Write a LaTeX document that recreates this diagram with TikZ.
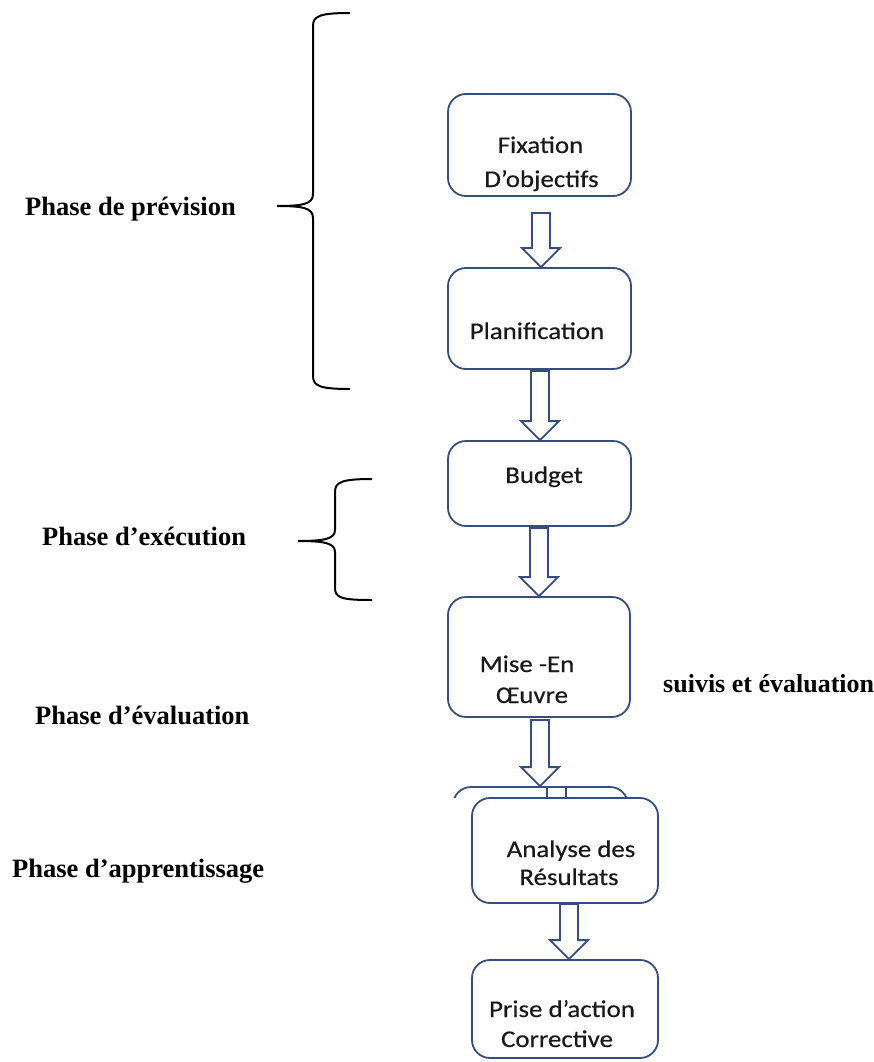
\documentclass[tikz,border=0pt]{standalone}
\usepackage{fontspec}
\setmainfont{Liberation Serif}
\newfontfamily\boxfont[FakeStretch=1.12,FakeBold=0.4]{Carlito}
\usetikzlibrary{calc}
\definecolor{boxblue}{RGB}{52,78,128}
\tikzset{
  stagebox/.style={draw=boxblue, line width=1.8pt, rounded corners=18pt, fill=white,
    rectangle, inner sep=0pt},
  stagetext/.style={anchor=base, inner sep=0pt, font=\boxfont\fontsize{24}{27}\selectfont, text=black!90},
  phaselabel/.style={anchor=base west, inner sep=0pt, font=\bfseries\fontsize{26.5}{30}\selectfont},
  bracket/.style={draw=black, line width=2pt},
  blockarrow/.style={draw=boxblue, line width=1.8pt, fill=white, line join=miter},
}
% hollow downward block arrow between two stage boxes
% #1 = x centre (pt), #2 = upper box, #3 = lower box, #4 = gap under upper box (pt)
\newcommand\blockarrow[4]{%
  \draw[blockarrow] let \p1=(#2.south), \p2=(#3.north) in
    (#1pt-9pt,\y1-#4pt) -- (#1pt+9pt,\y1-#4pt) -- (#1pt+9pt,\y2+19pt)
    -- (#1pt+19pt,\y2+19pt) -- (#1pt,\y2) -- (#1pt-19pt,\y2+19pt)
    -- (#1pt-9pt,\y2+19pt) -- cycle;}
\begin{document}
\begin{tikzpicture}[x=1pt,y=-1pt]
\path[use as bounding box] (0,0) rectangle (874,1062);

% stage boxes
\node[stagebox, minimum width=183pt, minimum height=102pt] (fix) at (539.5,145) {};
\node[stagebox, minimum width=183pt, minimum height=101pt] (plan) at (539.5,318.5) {};
\node[stagebox, minimum width=183pt, minimum height=85pt] (budget) at (539.5,483.5) {};
\node[stagebox, minimum width=182pt, minimum height=120pt] (mise) at (539,657) {};

% partly hidden box behind the analysis box
\begin{scope}
  \clip (440,780) rectangle (640,797);
  \node[stagebox, minimum width=175pt, minimum height=100pt] (hidden) at (540.5,837) {};
\end{scope}
\coordinate (tickA) at (547,787);
\coordinate (tickB) at (566,787);
\draw[draw=boxblue, line width=1.8pt] (tickA) -- ++(0,12);
\draw[draw=boxblue, line width=1.8pt] (tickB) -- ++(0,12);

\node[stagebox, minimum width=186pt, minimum height=105pt] (analyse) at (565,850.5) {};
\node[stagebox, minimum width=186pt, minimum height=98pt] (prise) at (565,1009) {};

% arrows between stages
\blockarrow{541}{fix}{plan}{16}
\blockarrow{540}{plan}{budget}{1}
\blockarrow{539}{budget}{mise}{1}
\blockarrow{540}{mise}{hidden}{2}
\blockarrow{569}{analyse}{prise}{0}

% stage texts
\node[stagetext] (tfix1) at (540.5,153) {Fixation};
\node[stagetext] (tfix2) at (541.5,187) {D’objectifs};
\node[stagetext] (tplan) at (537,339) {Planification};
\node[stagetext] (tbud) at (544,483) {Budget};
\node[stagetext] (tmise1) at (527,672) {Mise -En};
\node[stagetext] (tmise2) at (532,703) {Œuvre};
\node[stagetext] (tana1) at (571,857) {Analyse des};
\node[stagetext] (tana2) at (569,885) {Résultats};
\node[stagetext] (tpri1) at (562,1017) {Prise d’action};
\node[stagetext] (tpri2) at (557,1047) {Corrective};

% phase labels
\node[phaselabel] (pprev) at (25,215) {Phase de prévision};
\node[phaselabel] (pexec) at (42,545) {Phase d’exécution};
\node[phaselabel] (peval) at (35,724) {Phase d’évaluation};
\node[phaselabel] (pappr) at (12,877) {Phase d’apprentissage};
\node[phaselabel, font=\bfseries\fontsize{26}{30}\selectfont] (psuiv) at (663,692) {suivis et évaluation};

% braces
\coordinate (bigtip) at (277,206);
\draw[bracket] (bigtip) .. controls (303,206) and (313,204) .. (313,194)
  -- (313,26) .. controls (313,16) and (320,13) .. (350,13);
\draw[bracket] (bigtip) .. controls (303,206) and (313,208) .. (313,218)
  -- (313,376) .. controls (313,386) and (320,389) .. (350,389);

\coordinate (smalltip) at (298,541);
\draw[bracket] (smalltip) .. controls (324,541) and (335,539) .. (335,530)
  -- (335,492) .. controls (335,482) and (342,479) .. (372,479);
\draw[bracket] (smalltip) .. controls (324,541) and (335,543) .. (335,552)
  -- (335,588) .. controls (335,598) and (342,600) .. (372,600);
\end{tikzpicture}
\end{document}
